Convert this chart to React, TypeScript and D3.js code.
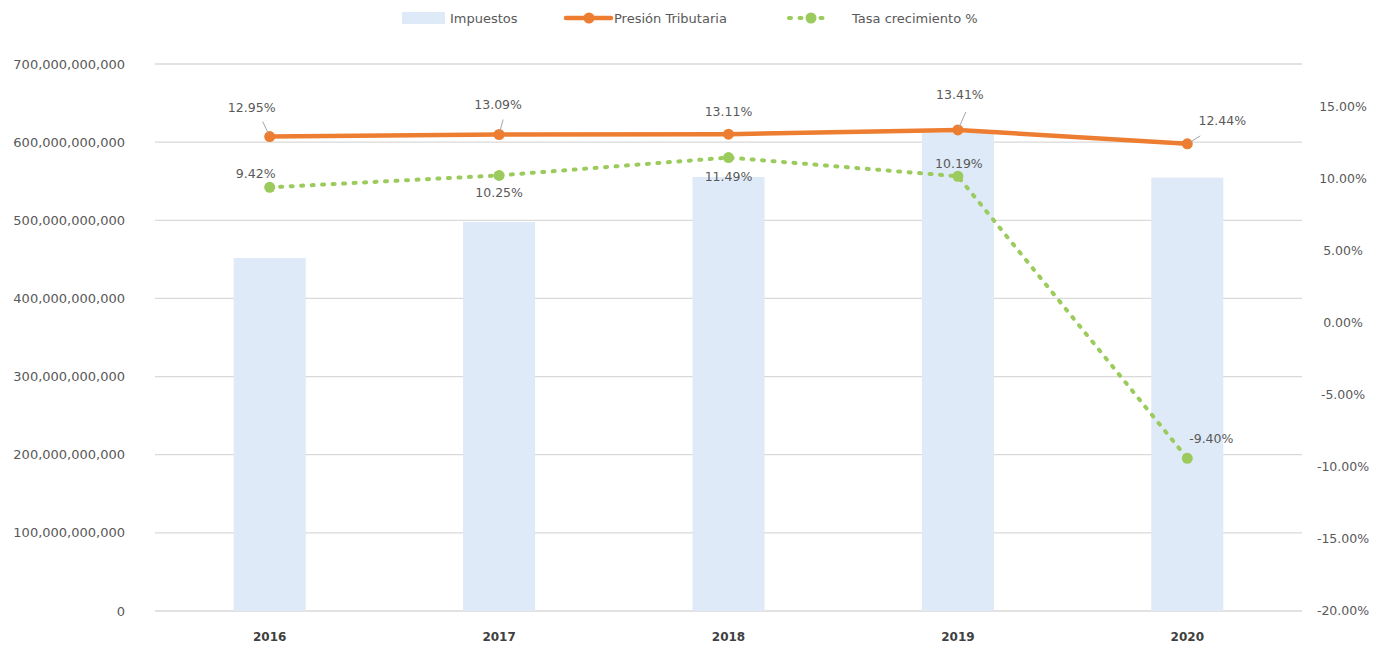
import React, { useEffect, useRef } from "react";
import * as d3 from "d3";

// Chart data
const years = ["2016", "2017", "2018", "2019", "2020"];
const impuestos = [451.7e9, 497.8e9, 555.4e9, 612.0e9, 554.5e9];
const presion = [0.1295, 0.1309, 0.1311, 0.1341, 0.1244];
const crecimiento = [0.0942, 0.1025, 0.1149, 0.1019, -0.094];
const leftTicks = [0, 100e9, 200e9, 300e9, 400e9, 500e9, 600e9, 700e9];
const rightTicks = [-0.2, -0.15, -0.1, -0.05, 0, 0.05, 0.1, 0.15];

// label placement (offset from the point) and leader line ends
const presionLabelOffset = [[-18, -29], [-1, -30], [0, -23], [2, -35], [35, -23]];
const presionLeader = [[-7, -15], [4, -15], null, [8, -18], [13, -8]];
const crecimientoLabelOffset = [[-14, -14], [0, 17], [0, 19], [1, -13], [24, -20]];

const W = 1384,
  H = 648;
const FONT = "'DejaVu Sans', sans-serif";
const ORANGE = "#ED7D31";
const GREEN = "#9BCB5C";
const BAR = "#DEEAF7";
const TEXT = "#595959";

export default function App() {
  const ref = useRef<SVGSVGElement>(null);

  useEffect(() => {
    const svg = d3.select(ref.current);
    svg.selectAll("*").remove();

    const margin = { top: 64, right: 82, bottom: 37, left: 155 };
    const bottom = H - margin.bottom;

    const x = d3
      .scaleBand()
      .domain(years)
      .range([margin.left, W - margin.right])
      .paddingInner(0.686)
      .paddingOuter(0.343);

    // center of each category
    const cx = (d: string) => (x(d) as number) + x.bandwidth() / 2;

    const y = d3.scaleLinear().domain([0, 700e9]).range([bottom, margin.top]);
    const y2 = d3.scaleLinear().domain([-0.2, 0.15]).range([bottom, 107]);

    // gridlines
    svg
      .append("g")
      .selectAll("line")
      .data(leftTicks)
      .enter()
      .append("line")
      .attr("x1", margin.left)
      .attr("x2", W - margin.right)
      .attr("y1", (d) => y(d))
      .attr("y2", (d) => y(d))
      .attr("stroke", "#D9D9D9")
      .attr("stroke-width", 1.3);

    // left axis labels
    const fmt = d3.format(",");
    svg
      .append("g")
      .selectAll("text")
      .data(leftTicks)
      .enter()
      .append("text")
      .attr("x", 125)
      .attr("y", (d) => y(d))
      .attr("dy", "0.35em")
      .attr("text-anchor", "end")
      .attr("font-family", FONT)
      .attr("font-size", 13)
      .attr("fill", TEXT)
      .text((d) => fmt(d));

    // right axis labels
    const pfmt = d3.format(".2%");
    svg
      .append("g")
      .selectAll("text")
      .data(rightTicks)
      .enter()
      .append("text")
      .attr("x", 1343)
      .attr("y", (d) => y2(d))
      .attr("dy", "0.35em")
      .attr("text-anchor", "middle")
      .attr("font-family", FONT)
      .attr("font-size", 12.5)
      .attr("fill", TEXT)
      .text((d) => pfmt(d).replace("−", "-"));

    // year labels
    svg
      .append("g")
      .selectAll("text")
      .data(years)
      .enter()
      .append("text")
      .attr("x", (d) => cx(d))
      .attr("y", 637)
      .attr("dy", "0.35em")
      .attr("text-anchor", "middle")
      .attr("font-family", FONT)
      .attr("font-size", 12)
      .attr("font-weight", "bold")
      .attr("fill", "#404040")
      .text((d) => d);

    // bars
    svg
      .append("g")
      .selectAll("rect")
      .data(impuestos)
      .enter()
      .append("rect")
      .attr("x", (d, i) => x(years[i]) as number)
      .attr("width", x.bandwidth())
      .attr("y", (d) => y(d))
      .attr("height", (d) => bottom - y(d))
      .attr("fill", BAR);

    // orange line
    const line = d3
      .line<number>()
      .x((d, i) => cx(years[i]))
      .y((d) => y2(d));

    svg
      .append("path")
      .datum(presion)
      .attr("d", line)
      .attr("fill", "none")
      .attr("stroke", ORANGE)
      .attr("stroke-width", 4.5)
      .attr("stroke-linejoin", "round");

    svg
      .append("g")
      .selectAll("circle")
      .data(presion)
      .enter()
      .append("circle")
      .attr("cx", (d, i) => cx(years[i]))
      .attr("cy", (d) => y2(d))
      .attr("r", 5.5)
      .attr("fill", ORANGE);

    // green dotted line
    svg
      .append("path")
      .datum(crecimiento)
      .attr("d", line)
      .attr("fill", "none")
      .attr("stroke", GREEN)
      .attr("stroke-width", 4)
      .attr("stroke-linecap", "round")
      .attr("stroke-dasharray", "2 8.5");

    svg
      .append("g")
      .selectAll("circle")
      .data(crecimiento)
      .enter()
      .append("circle")
      .attr("cx", (d, i) => cx(years[i]))
      .attr("cy", (d) => y2(d))
      .attr("r", 5.5)
      .attr("fill", GREEN);

    // leader lines for the orange labels
    presion.forEach((v, i) => {
      const l = presionLeader[i];
      if (!l) return;
      const px = cx(years[i]),
        py = y2(v);
      const len = Math.hypot(l[0], l[1]);
      svg
        .append("line")
        .attr("x1", px + (l[0] / len) * 3)
        .attr("y1", py + (l[1] / len) * 3)
        .attr("x2", px + l[0])
        .attr("y2", py + l[1])
        .attr("stroke", "#A6A6A6")
        .attr("stroke-width", 1);
    });

    // data labels
    const labels = (vals: number[], offs: number[][]) =>
      svg
        .append("g")
        .selectAll("text")
        .data(vals)
        .enter()
        .append("text")
        .attr("x", (d, i) => cx(years[i]) + offs[i][0])
        .attr("y", (d, i) => y2(d) + offs[i][1])
        .attr("dy", "0.35em")
        .attr("text-anchor", "middle")
        .attr("font-family", FONT)
        .attr("font-size", 12.5)
        .attr("fill", TEXT)
        .text((d) => pfmt(d).replace("−", "-"));

    labels(presion, presionLabelOffset);
    labels(crecimiento, crecimientoLabelOffset);

    // legend
    const leg = svg.append("g").attr("font-family", FONT).attr("font-size", 13).attr("fill", TEXT);
    leg.append("rect").attr("x", 402).attr("y", 12).attr("width", 43).attr("height", 12).attr("fill", BAR);
    leg.append("text").attr("x", 450).attr("y", 18).attr("dy", "0.35em").text("Impuestos");

    leg.append("line").attr("x1", 566).attr("x2", 611).attr("y1", 18).attr("y2", 18)
      .attr("stroke", ORANGE).attr("stroke-width", 4.5).attr("stroke-linecap", "round");
    leg.append("circle").attr("cx", 589).attr("cy", 18).attr("r", 5.5).attr("fill", ORANGE);
    leg.append("text").attr("x", 614).attr("y", 18).attr("dy", "0.35em").text("Presión Tributaria");

    leg.append("line").attr("x1", 789).attr("x2", 831).attr("y1", 18).attr("y2", 18)
      .attr("stroke", GREEN).attr("stroke-width", 4).attr("stroke-linecap", "round")
      .attr("stroke-dasharray", "2 8.5");
    leg.append("circle").attr("cx", 811).attr("cy", 18).attr("r", 5.5).attr("fill", GREEN);
    leg.append("text").attr("x", 852).attr("y", 18).attr("dy", "0.35em").text("Tasa crecimiento %");
  }, []);

  return (
    <div style={{ position: "absolute", left: 0, top: 0 }}>
      <svg ref={ref} width={W} height={H} style={{ display: "block", background: "#fff" }} />
    </div>
  );
}
